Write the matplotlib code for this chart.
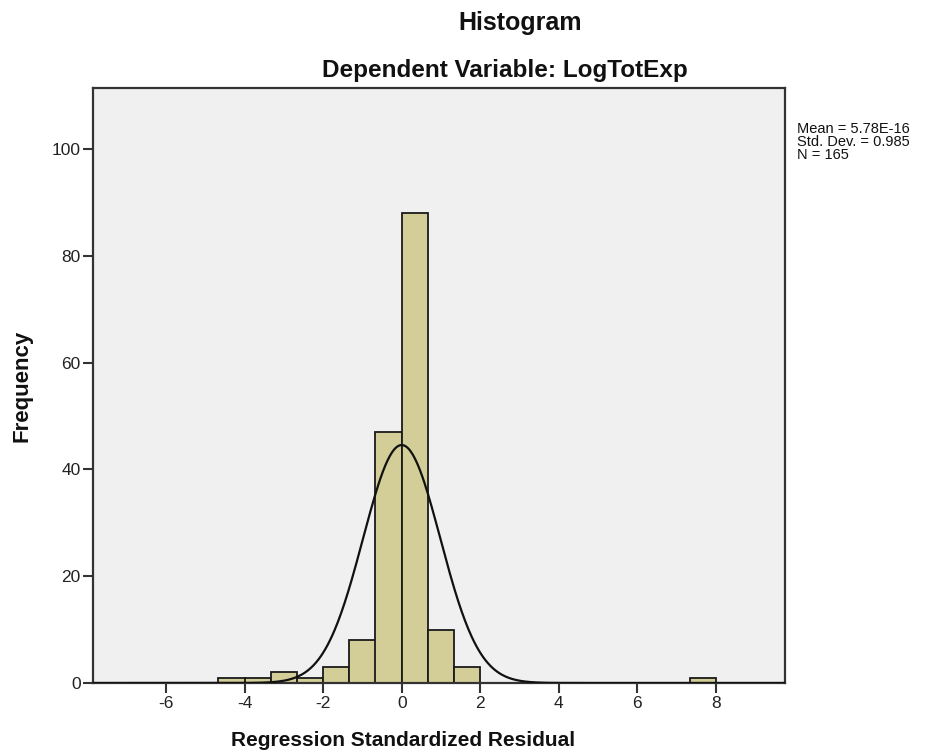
import numpy as np
import matplotlib
matplotlib.use("Agg")
import matplotlib.pyplot as plt

plt.rcParams['font.family'] = ['Liberation Sans', 'DejaVu Sans']

# Data
bin_width = 2.0 / 3.0
bin_left = [-4.667, -4.0, -3.333, -2.667, -2.0, -1.333, -0.667, 0.0, 0.667, 1.333, 7.333]
counts = [1, 1, 2, 1, 3, 8, 47, 88, 10, 3, 1]
mean_val = 5.78e-16
std_val = 0.985
n_val = 165
x_ticks = [-6, -4, -2, 0, 2, 4, 6, 8]
y_ticks = [0, 20, 40, 60, 80, 100]
stat_lines = ['Mean = 5.78E-16', 'Std. Dev. = 0.985', 'N = 165']

W, H = 942, 754
fig = plt.figure(figsize=(W / 100, H / 100), dpi=100)
L, R, T, B = 93, 785, 88, 683
ax = fig.add_axes([L / W, 1 - B / H, (R - L) / W, (B - T) / H])
ax.set_facecolor('#F0F0F0')

ax.bar(bin_left, counts, width=bin_width, align='edge', color='#D3CE97',
       edgecolor='#1a1a1a', linewidth=1.3, zorder=2)

xs = np.linspace(-7.86, 9.76, 600)
pdf = n_val * bin_width / (std_val * np.sqrt(2 * np.pi)) * np.exp(-0.5 * ((xs - mean_val) / std_val) ** 2)
ax.plot(xs, pdf, color='#111111', linewidth=1.6, zorder=3)

ax.set_xlim(-7.86, 9.76)
ax.set_ylim(0, 111.4)
ax.set_xticks(x_ticks)
ax.set_xticklabels([str(t) for t in x_ticks])
ax.set_yticks(y_ticks)
ax.set_yticklabels([str(t) for t in y_ticks])
ax.tick_params(axis='both', direction='out', length=7, width=1.5, color='#333333',
               labelsize=12.5, labelcolor='#222222', pad=2)
for s in ax.spines.values():
    s.set_color('#333333')
    s.set_linewidth(1.6)

fig.text(520 / W, 1 - 23 / H, 'Histogram', ha='center', va='center',
         fontsize=18, fontweight='bold', color='#111111')
fig.text(505 / W, 1 - 70 / H, 'Dependent Variable: LogTotExp', ha='center', va='center',
         fontsize=17.5, fontweight='bold', color='#111111')
fig.text(403 / W, 1 - 740 / H, 'Regression Standardized Residual', ha='center', va='center',
         fontsize=15, fontweight='bold', color='#111111')
fig.text(22 / W, 1 - 386 / H, 'Frequency', ha='center', va='center', rotation=90,
         fontsize=16, fontweight='bold', color='#111111')
fig.text(797 / W, 1 - 122 / H, '\n'.join(stat_lines), ha='left', va='top',
         fontsize=10.5, linespacing=0.9, color='#111111')

fig.savefig('out.png', dpi=100, facecolor='white')
